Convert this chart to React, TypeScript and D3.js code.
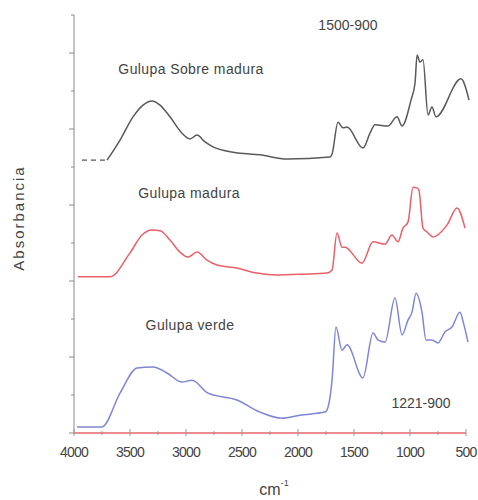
import React from "react";
import * as d3 from "d3";

const xTicksMajor = [4000, 3500, 3000, 2500, 2000, 1500, 1000, 500];
const xTicksMinor = [3750, 3250, 2750, 2250, 1750, 1250, 750];
const yTicks = [0, 1, 2, 3, 4, 5, 6, 7, 8, 9, 10, 11];

const sobreDashed: [number, number][] = [[3929, 7.18], [3705, 7.18]];
const sobreMadura: [number, number][] = [
  [3705, 7.18], [3589, 7.71], [3473, 8.32], [3384, 8.63], [3304, 8.74], [3232, 8.63],
  [3143, 8.32], [3036, 7.89], [2964, 7.74], [2902, 7.84], [2830, 7.66], [2759, 7.53],
  [2580, 7.39], [2339, 7.32], [2098, 7.21], [1714, 7.26], [1696, 7.34], [1643, 8.18],
  [1598, 8.03], [1562, 8.05], [1420, 7.5], [1357, 7.89], [1313, 8.11], [1196, 8.08],
  [1116, 8.32], [1071, 8.08], [991, 8.76], [955, 9.21], [937, 9.95], [911, 9.76],
  [884, 9.82], [839, 8.37], [804, 8.58], [768, 8.32], [545, 9.32], [473, 8.76],
];
const madura: [number, number][] = [
  [3964, 4.11], [3679, 4.11], [3500, 4.74], [3393, 5.21], [3304, 5.34], [3232, 5.32],
  [3143, 5.08], [3054, 4.76], [2982, 4.63], [2902, 4.76], [2813, 4.55], [2723, 4.42],
  [2545, 4.34], [2366, 4.21], [2188, 4.16], [1955, 4.18], [1741, 4.21], [1696, 4.29],
  [1652, 5.26], [1607, 4.89], [1580, 4.89], [1429, 4.47], [1330, 5.03], [1223, 4.97],
  [1161, 5.21], [1107, 5.03], [1063, 5.39], [1018, 5.55], [973, 6.47], [937, 6.45],
  [920, 6.39], [884, 5.39], [848, 5.29], [795, 5.16], [670, 5.47], [580, 5.92], [509, 5.39],
];
const verde: [number, number][] = [
  [3973, 0.16], [3750, 0.16], [3589, 1.05], [3437, 1.71], [3295, 1.74], [3170, 1.58],
  [3036, 1.34], [2946, 1.39], [2804, 1.05], [2545, 0.87], [2339, 0.55], [2143, 0.39],
  [1982, 0.47], [1759, 0.55], [1732, 0.68], [1696, 1.39], [1661, 2.79], [1607, 2.18],
  [1562, 2.32], [1420, 1.45], [1330, 2.63], [1286, 2.45], [1223, 2.39], [1134, 3.55],
  [1071, 2.58], [1018, 2.97], [982, 3.18], [946, 3.68], [893, 3.18], [857, 2.45],
  [804, 2.45], [750, 2.37], [688, 2.66], [625, 2.79], [554, 3.18], [518, 2.84], [482, 2.39],
];

const labels = [
  { text: "Gulupa Sobre madura", w: 2955, v: 9.45 },
  { text: "Gulupa madura", w: 2973, v: 6.18 },
  { text: "Gulupa verde", w: 2964, v: 2.71 },
  { text: "1500-900", w: 1554, v: 10.6 },
  { text: "1221-900", w: 902, v: 0.66 },
];

export default function App() {
  const x = d3.scaleLinear().domain([4000, 500]).range([74, 466]);
  const y = d3.scaleLinear().domain([0, 11]).range([433, 15]);
  const line = d3.line<[number, number]>().x((d) => x(d[0])).y((d) => y(d[1])).curve(d3.curveMonotoneX);
  const font = "'Liberation Sans', Arial, sans-serif";
  return (
    <svg width={478} height={500} style={{ position: "absolute", left: 0, top: 0, background: "#fff" }}>
      {/* y axis */}
      <line x1={74} x2={74} y1={y(11)} y2={y(0)} stroke="#8a8a8a" strokeWidth={1} />
      {yTicks.map((t) => (
        <line key={t} x1={t % 2 === 0 ? 69 : 71} x2={74} y1={y(t)} y2={y(t)} stroke="#8a8a8a" strokeWidth={1} />
      ))}
      {/* x axis */}
      <line x1={x(4000)} x2={x(500)} y1={y(0)} y2={y(0)} stroke="#e8646c" strokeWidth={1.3} />
      {xTicksMajor.map((t) => (
        <line key={t} x1={x(t)} x2={x(t)} y1={y(0) - 4} y2={y(0) + 3} stroke="#999" strokeWidth={1} />
      ))}
      {xTicksMinor.map((t) => (
        <line key={t} x1={x(t)} x2={x(t)} y1={y(0) - 2} y2={y(0) + 2} stroke="#999" strokeWidth={1} />
      ))}
      {xTicksMajor.map((t) => (
        <text key={t} x={x(t)} y={457} textAnchor="middle" fontFamily={font} fontSize={14} fill="#444" letterSpacing={-0.8}>
          {t}
        </text>
      ))}
      {/* curves */}
      <path d={line(sobreDashed) || ""} fill="none" stroke="#555" strokeWidth={1.3} strokeDasharray="5,4" />
      <path d={line(sobreMadura) || ""} fill="none" stroke="#5a5a5a" strokeWidth={1.5} />
      <path d={line(madura) || ""} fill="none" stroke="#e8606a" strokeWidth={1.5} />
      <path d={line(verde) || ""} fill="none" stroke="#7f86d6" strokeWidth={1.5} />
      {labels.map((l) => (
        <text key={l.text} x={x(l.w)} y={y(l.v)} textAnchor="middle" fontFamily={font} fontSize={14} fill="#444" letterSpacing={l.text.startsWith("G") ? 0.4 : 0}>
          {l.text}
        </text>
      ))}
      {/* axis titles */}
      <text x={274} y={495} textAnchor="middle" fontFamily={font} fontSize={16} fill="#444">
        cm<tspan dy={-9} fontSize={9}>-1</tspan>
      </text>
      <text transform="translate(24,218) rotate(-90)" textAnchor="middle" fontFamily={font} fontSize={15} fill="#444" letterSpacing={2}>
        Absorbancia
      </text>
    </svg>
  );
}
